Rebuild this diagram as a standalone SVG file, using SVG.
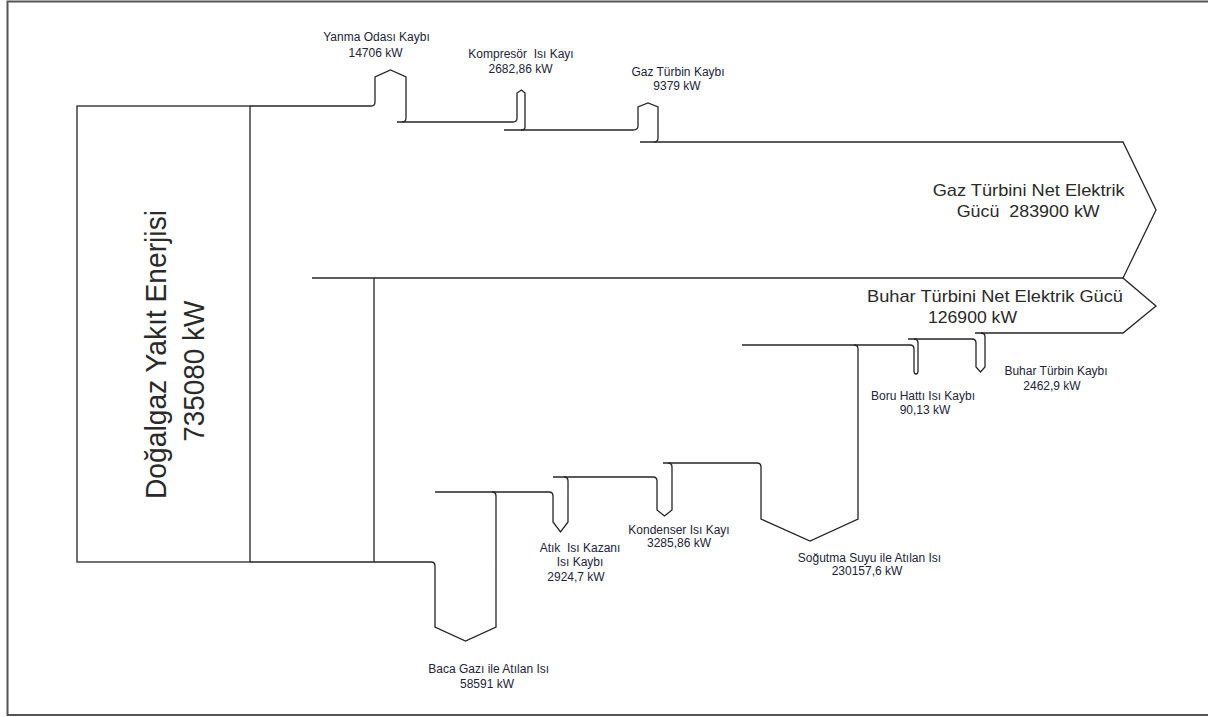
<svg xmlns="http://www.w3.org/2000/svg" width="1208" height="717" viewBox="0 0 1208 717">
<style>
.ln{fill:none;stroke:#262626;stroke-width:1.3;stroke-linejoin:miter}
.fr{fill:none;stroke:#555;stroke-width:2}
.t{font-family:"Liberation Sans",Arial,sans-serif;font-size:12px;fill:#23233a;text-anchor:middle;white-space:pre}
.b{font-family:"Liberation Sans",Arial,sans-serif;font-size:17px;fill:#2a2a2a;white-space:pre}
.v{font-family:"Liberation Sans",Arial,sans-serif;font-size:29px;fill:#2a2a2a}
</style>
<rect width="1208" height="717" fill="#fff"/>
<path class="fr" d="M1210,1.5 H7.5 V715 H1210"/>
<g id="connectors">
<path class="ln" d="M250,106 H371 Q375,106 375,102 V77 L390.5,70 L406,77 V118 Q406,122 402,122"/>
<path class="ln" d="M397,122 H513 Q517,122 517,118 V93 L521.5,90 L525,93 V127 Q525,130 521,130"/>
<path class="ln" d="M504,130 H633 Q638,130 638,126 V107 L648,103 L658,107 V138 Q658,142 654,142"/>
<path class="ln" d="M640,142 H1123 L1156,210 L1123,278 L1156,306 L1123,333 H975"/>
<path class="ln" d="M312,278 H1123"/>
<path class="ln" d="M374,278 V562"/>
<path class="ln" d="M250,562 H431 Q435,562 435,566 V627 L465.5,641 L496,627 V496 Q496,492 492,492"/>
<path class="ln" d="M435,492 H549 Q553,492 553,496 V522 L560.5,532 L568,522 V481 Q568,477 564,477"/>
<path class="ln" d="M553,477 H653 Q657,477 657,481 V510 L664.5,516 L672,510 V467 Q672,463 668,463"/>
<path class="ln" d="M663,463 H757 Q761,463 761,467 V519 L810,541 L858,519 V349 Q858,345 854,345"/>
<path class="ln" d="M742,345 H910 Q914,345 914,349 V371 Q914,374 916,374 Q918,374 918,371 V343 Q918,339 914,339"/>
<path class="ln" d="M908,339 H972 Q976,339 976,343 V367 L980.5,372 L985,367 V337 Q985,333 981,333"/>
</g>
<g id="node-fuel">
<rect class="ln" x="77" y="106" width="173" height="456"/>
<text class="v" transform="translate(166,499) rotate(-90)" textLength="289" lengthAdjust="spacingAndGlyphs">Doğalgaz Yakıt Enerjisi</text>
<text class="v" transform="translate(204,441.7) rotate(-90)" textLength="141" lengthAdjust="spacingAndGlyphs">735080 kW</text>
</g>
<g id="node-yanma">
<text class="t" x="376.5" y="40.5">Yanma Odası Kaybı</text>
<text class="t" x="375.5" y="56.5">14706 kW</text>
</g>
<g id="node-kompresor">
<text class="t" x="521" y="58" xml:space="preserve">Kompresör  Isı Kayı</text>
<text class="t" x="520.5" y="72.5">2682,86 kW</text>
</g>
<g id="node-gazturbin-kayip">
<text class="t" x="678" y="76">Gaz Türbin Kaybı</text>
<text class="t" x="677" y="89.5">9379 kW</text>
</g>
<g id="node-gazturbini-net">
<text class="b" x="932.7" y="196" textLength="192" lengthAdjust="spacingAndGlyphs">Gaz Türbini Net Elektrik</text>
<text class="b" x="956.7" y="217" textLength="143" lengthAdjust="spacingAndGlyphs" xml:space="preserve">Gücü  283900 kW</text>
</g>
<g id="node-buharturbini-net">
<text class="b" x="867" y="301.5" textLength="256" lengthAdjust="spacingAndGlyphs">Buhar Türbini Net Elektrik Gücü</text>
<text class="b" x="928" y="323" textLength="89" lengthAdjust="spacingAndGlyphs">126900 kW</text>
</g>
<g id="node-buharturbin-kayip">
<text class="t" x="1056" y="375">Buhar Türbin Kaybı</text>
<text class="t" x="1052" y="390">2462,9 kW</text>
</g>
<g id="node-boru">
<text class="t" x="923" y="400">Boru Hattı Isı Kaybı</text>
<text class="t" x="925" y="413.5">90,13 kW</text>
</g>
<g id="node-sogutma">
<text class="t" x="869.5" y="561.7">Soğutma Suyu ile Atılan Isı</text>
<text class="t" x="867" y="575">230157,6 kW</text>
</g>
<g id="node-kondenser">
<text class="t" x="679" y="534">Kondenser Isı Kayı</text>
<text class="t" x="679" y="547.3">3285,86 kW</text>
</g>
<g id="node-atik">
<text class="t" x="580" y="552.3" xml:space="preserve">Atık  Isı Kazanı</text>
<text class="t" x="580" y="565.7">Isı Kaybı</text>
<text class="t" x="576" y="580.7">2924,7 kW</text>
</g>
<g id="node-baca">
<text class="t" x="488.7" y="673.3">Baca Gazı ile Atılan Isı</text>
<text class="t" x="487" y="687.7">58591 kW</text>
</g>
</svg>
